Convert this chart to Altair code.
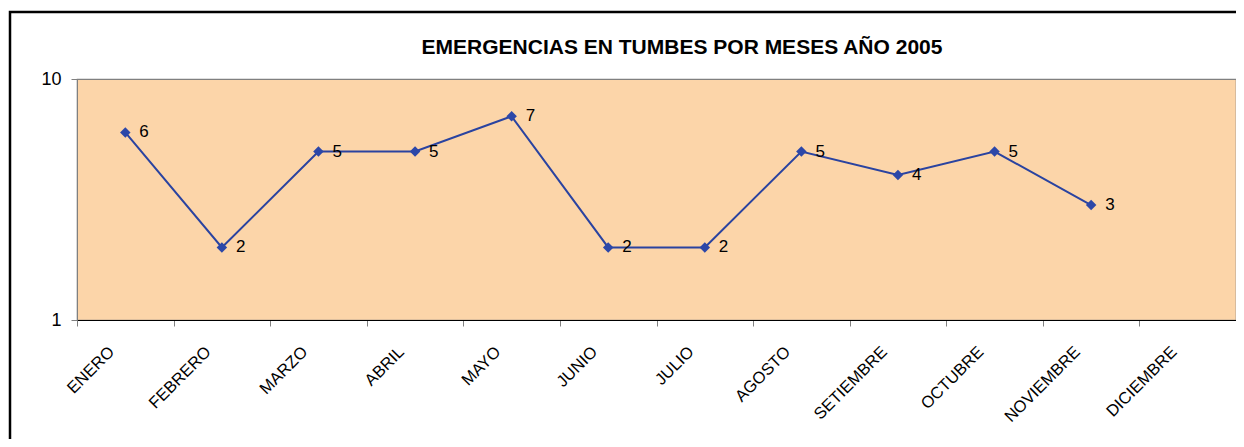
import altair as alt
import pandas as pd

months = ["ENERO", "FEBRERO", "MARZO", "ABRIL", "MAYO", "JUNIO", "JULIO",
          "AGOSTO", "SETIEMBRE", "OCTUBRE", "NOVIEMBRE", "DICIEMBRE"]
values = [6, 2, 5, 5, 7, 2, 2, 5, 4, 5, 3]
y_ticks = [1, 10]
title_text = "EMERGENCIAS EN TUMBES POR MESES AÑO 2005"

df = pd.DataFrame({"mes": months[:len(values)], "n": values})

FONT = "Liberation Sans"
LINE = "#2A43A0"
MARK = "#2C47A8"

x_enc = alt.X("mes:N", sort=months, bandPosition=0.5,
              scale=alt.Scale(type="band", domain=months, paddingInner=0, paddingOuter=0),
              axis=alt.Axis(title=None, tickBand="extent", labelAngle=-45,
                            labelAlign="right", labelBaseline="middle",
                            labelPadding=23, labelOffset=-14, tickSize=6,
                            tickColor="#808080", domainColor="#000000",
                            labelFont=FONT, labelFontSize=16.5, labelColor="#000000",
                            grid=False))
y_enc = alt.Y("n:Q", scale=alt.Scale(type="log", domain=[1, 10]),
              axis=alt.Axis(title=None, values=y_ticks, format="d", tickSize=6,
                            tickColor="#808080", domainColor="#808080",
                            labelFont=FONT, labelFontSize=18, labelColor="#000000",
                            labelPadding=10, grid=False))

base = alt.Chart(df).encode(x=x_enc, y=y_enc)

line = base.mark_line(color=LINE, strokeWidth=2)
pts = base.mark_point(shape="diamond", filled=True, size=110, color=MARK, opacity=1)
txt = base.mark_text(align="left", baseline="middle", dx=14, font=FONT,
                     fontSize=17, color="#000000").encode(text="n:Q")

one = pd.DataFrame({"t": [title_text]})
title = alt.Chart(one).mark_text(font=FONT, fontSize=21, fontWeight="bold",
                                 color="#000000", align="center", baseline="middle").encode(
    text="t:N", x=alt.value(605), y=alt.value(-31))

frame = alt.Chart(one).mark_rect(
    fill=None, stroke="#000000", strokeWidth=2.5
).encode(x=alt.value(-67), x2=alt.value(1200), y=alt.value(-67), y2=alt.value(400))

chart = alt.layer(frame, title, line, pts, txt).properties(
    width=1159, height=241,
    autosize=alt.AutoSizeParams(type="none"),
    padding={"left": 69, "top": 71, "right": 0, "bottom": 119},
).configure_view(fill="#FCD5A9", stroke="#808080", strokeWidth=1.2)

chart.save("out.html", embed_options={"renderer": "svg", "actions": False})
